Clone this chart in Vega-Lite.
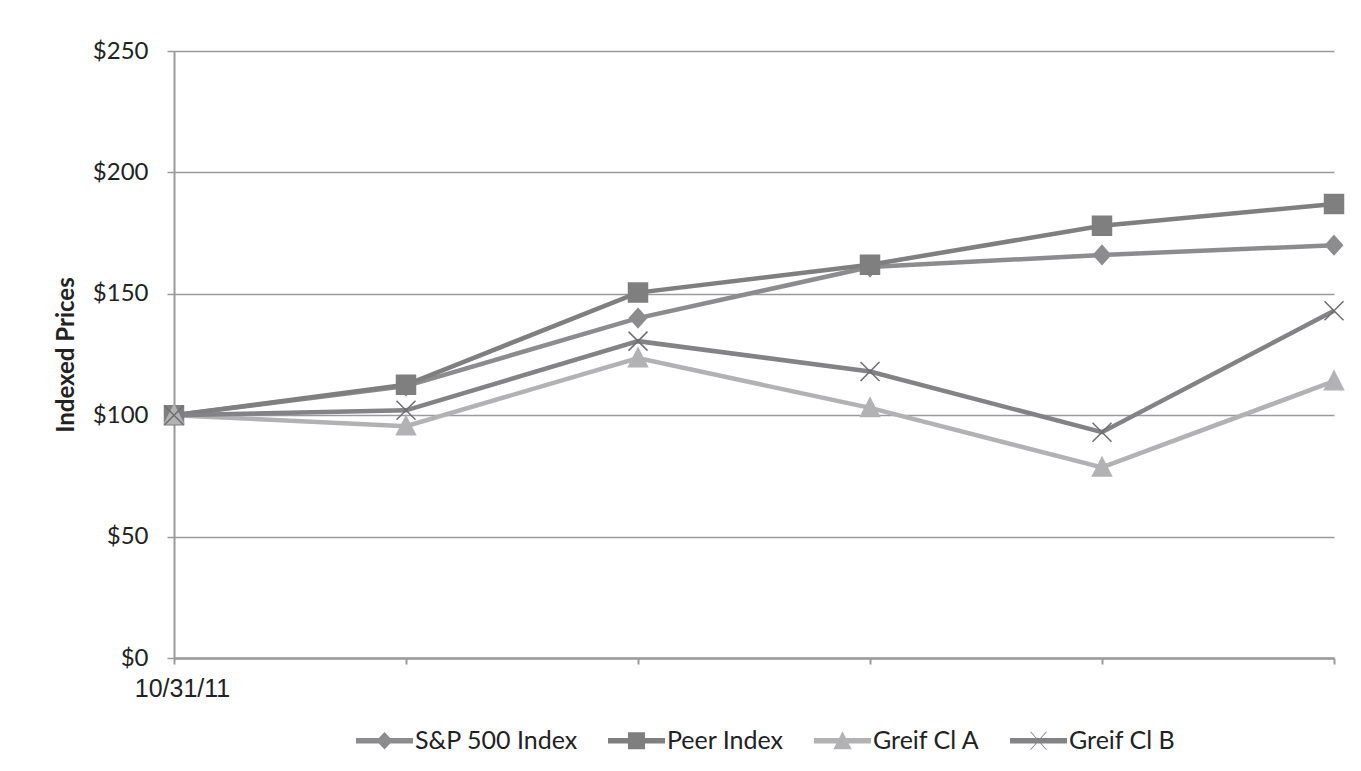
{
  "$schema": "https://vega.github.io/schema/vega-lite/v6.json",
  "width": 1160,
  "height": 607,
  "autosize": {"type": "none"},
  "padding": {"left": 174, "top": 51, "right": 27, "bottom": 113},
  "background": "white",
  "config": {"view": {"stroke": null}, "font": "Lato"},
  "data": {
    "values": [
      {"series": "S&P 500 Index", "t": 0, "value": 100},
      {"series": "S&P 500 Index", "t": 1, "value": 112},
      {"series": "S&P 500 Index", "t": 2, "value": 140},
      {"series": "S&P 500 Index", "t": 3, "value": 161},
      {"series": "S&P 500 Index", "t": 4, "value": 166},
      {"series": "S&P 500 Index", "t": 5, "value": 170},
      {"series": "Peer Index", "t": 0, "value": 100},
      {"series": "Peer Index", "t": 1, "value": 112.5},
      {"series": "Peer Index", "t": 2, "value": 150.5},
      {"series": "Peer Index", "t": 3, "value": 162},
      {"series": "Peer Index", "t": 4, "value": 178},
      {"series": "Peer Index", "t": 5, "value": 187},
      {"series": "Greif Cl A", "t": 0, "value": 100},
      {"series": "Greif Cl A", "t": 1, "value": 95.5},
      {"series": "Greif Cl A", "t": 2, "value": 123.5},
      {"series": "Greif Cl A", "t": 3, "value": 103},
      {"series": "Greif Cl A", "t": 4, "value": 78.5},
      {"series": "Greif Cl A", "t": 5, "value": 114},
      {"series": "Greif Cl B", "t": 0, "value": 100},
      {"series": "Greif Cl B", "t": 1, "value": 102},
      {"series": "Greif Cl B", "t": 2, "value": 130.5},
      {"series": "Greif Cl B", "t": 3, "value": 118},
      {"series": "Greif Cl B", "t": 4, "value": 93},
      {"series": "Greif Cl B", "t": 5, "value": 143}
    ]
  },
  "encoding": {
    "x": {
      "field": "t",
      "type": "quantitative",
      "scale": {"domain": [0, 5], "nice": false},
      "axis": {
        "values": [0, 1, 2, 3, 4, 5],
        "labelExpr": "datum.value == 0 ? '10/31/11' : ''",
        "labelFlush": false,
        "labelFont": "Liberation Sans",
        "labelFontSize": 25,
        "labelColor": "#222222",
        "labelPadding": 12,
        "labelOffset": 8,
        "domainColor": "#9a9a9a",
        "domainWidth": 2.5,
        "tickColor": "#9a9a9a",
        "tickWidth": 2,
        "tickSize": 6,
        "grid": false,
        "title": null
      }
    },
    "y": {
      "field": "value",
      "type": "quantitative",
      "scale": {"domain": [0, 250], "nice": false},
      "axis": {
        "values": [0, 50, 100, 150, 200, 250],
        "labelExpr": "'$' + datum.value",
        "labelFont": "Lato",
        "labelFontSize": 24,
        "labelColor": "#222222",
        "labelPadding": 19,
        "grid": true,
        "gridColor": "#9a9a9a",
        "gridWidth": 1.5,
        "domainColor": "#9a9a9a",
        "domainWidth": 2,
        "tickColor": "#9a9a9a",
        "tickWidth": 1.5,
        "tickSize": 7,
        "title": "Indexed Prices",
        "titleFont": "Lato",
        "titleFontSize": 24,
        "titleFontWeight": "bold",
        "titleColor": "#222222",
        "titlePadding": 14
      }
    }
  },
  "layer": [
    {
      "mark": {"type": "line", "strokeWidth": 4.5},
      "encoding": {
        "color": {
          "field": "series",
          "type": "nominal",
          "scale": {
            "domain": ["S&P 500 Index", "Peer Index", "Greif Cl A", "Greif Cl B"],
            "range": ["#8c8c8f", "#7f7f80", "#b2b2b4", "#838385"]
          },
          "legend": null
        }
      }
    },
    {
      "mark": {"type": "point", "filled": true, "size": 400, "opacity": 1, "strokeWidth": 1.5},
      "encoding": {
        "color": {
          "field": "series",
          "type": "nominal",
          "scale": {
            "domain": ["S&P 500 Index", "Peer Index", "Greif Cl A", "Greif Cl B"],
            "range": ["#8c8c8f", "#7f7f80", "#b2b2b4", "#838385"]
          },
          "legend": null
        },
        "stroke": {
          "field": "series",
          "type": "nominal",
          "scale": {
            "domain": ["S&P 500 Index", "Peer Index", "Greif Cl A", "Greif Cl B"],
            "range": ["#8c8c8f", "#7f7f80", "#b2b2b4", "#6e6e70"]
          },
          "legend": null
        },
        "shape": {
          "field": "series",
          "type": "nominal",
          "scale": {
            "domain": ["S&P 500 Index", "Peer Index", "Greif Cl A", "Greif Cl B"],
            "range": [
              "M0,-0.95 L0.85,0 L0,0.95 L-0.85,0 Z",
              "M-0.95,-0.95 L0.95,-0.95 L0.95,0.95 L-0.95,0.95 Z",
              "M0,-1 L0.95,0.85 L-0.95,0.85 Z",
              "M-0.95,-0.95 L0.95,0.95 M-0.95,0.95 L0.95,-0.95"
            ]
          },
          "legend": null
        }
      }
    },
    {
      "transform": [{"filter": "false"}],
      "mark": {"type": "point", "filled": true, "opacity": 1},
      "encoding": {
        "color": {
          "field": "series",
          "type": "nominal",
          "scale": {
            "domain": ["S&P 500 Index", "Peer Index", "Greif Cl A", "Greif Cl B"],
            "range": ["#8c8c8f", "#7f7f80", "#b2b2b4", "#838385"]
          },
          "legend": {
            "orient": "none",
            "legendX": 182,
            "legendY": 661,
            "direction": "horizontal",
            "title": null,
            "symbolSize": 3249,
            "symbolStrokeWidth": 0,
            "labelFont": "Lato",
            "labelFontSize": 25,
            "labelColor": "#222222",
            "labelOffset": 2,
            "labelLimit": 400,
            "columnPadding": 30
          }
        },
        "shape": {
          "field": "series",
          "type": "nominal",
          "scale": {
            "domain": ["S&P 500 Index", "Peer Index", "Greif Cl A", "Greif Cl B"],
            "range": [
              "M-1,-0.1 L1,-0.1 L1,0.1 L-1,0.1 Z M0,-0.31 L0.29,0 L0,0.31 L-0.29,0 Z",
              "M-1,-0.1 L1,-0.1 L1,0.1 L-1,0.1 Z M-0.3,-0.3 L0.3,-0.3 L0.3,0.3 L-0.3,0.3 Z",
              "M-1,-0.1 L1,-0.1 L1,0.1 L-1,0.1 Z M0,-0.33 L0.32,0.3 L-0.32,0.3 Z",
              "M-1,-0.1 L1,-0.1 L1,0.1 L-1,0.1 Z M-0.3,-0.32 L-0.26,-0.32 L0.3,0.32 L0.26,0.32 Z M0.26,-0.32 L0.3,-0.32 L-0.26,0.32 L-0.3,0.32 Z"
            ]
          },
          "legend": {
            "orient": "none",
            "legendX": 182,
            "legendY": 661,
            "direction": "horizontal",
            "title": null,
            "symbolSize": 3249,
            "symbolStrokeWidth": 0,
            "labelFont": "Lato",
            "labelFontSize": 25,
            "labelColor": "#222222",
            "labelOffset": 2,
            "labelLimit": 400,
            "columnPadding": 30
          }
        }
      }
    }
  ],
  "resolve": {"scale": {"shape": "independent", "color": "independent"}}
}
